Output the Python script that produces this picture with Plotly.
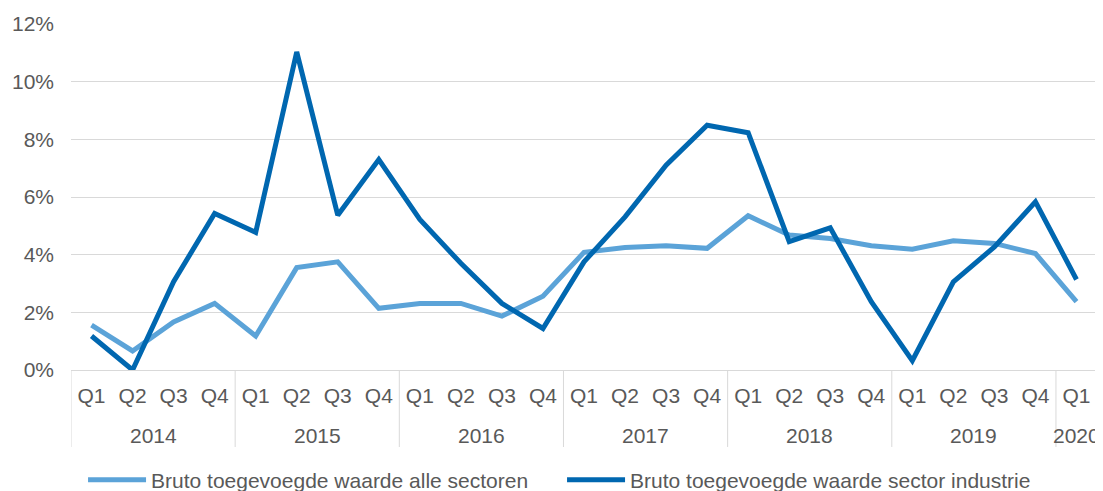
import plotly.graph_objects as go

years = ["2014"] * 4 + ["2015"] * 4 + ["2016"] * 4 + ["2017"] * 4 + ["2018"] * 4 + ["2019"] * 4 + ["2020"]
quarters = ["Q1", "Q2", "Q3", "Q4"] * 6 + ["Q1"]

alle_sectoren = [1.56, 0.66, 1.67, 2.31, 1.18, 3.55, 3.75, 2.14,
                 2.31, 2.31, 1.87, 2.56, 4.08, 4.25, 4.31, 4.22,
                 5.35, 4.68, 4.56, 4.31, 4.19, 4.48, 4.39, 4.04, 2.37]
industrie = [1.18, 0.0, 3.06, 5.43, 4.77, 11.03, 5.37, 7.30,
             5.22, 3.70, 2.31, 1.44, 3.75, 5.31, 7.10, 8.49,
             8.23, 4.45, 4.93, 2.37, 0.32, 3.06, 4.27, 5.83, 3.14]

name_alle = "Bruto toegevoegde waarde alle sectoren"
name_ind = "Bruto toegevoegde waarde sector industrie"

FONT = "Liberation Sans, Arial, sans-serif"
GRAY = "#595959"
GRID = "#D9D9D9"
FS = 21

keys = [f"{y}-{q}" for y, q in zip(years, quarters)]

fig = go.Figure()
fig.add_trace(go.Scatter(x=keys, y=alle_sectoren, name=name_alle, mode="lines",
                         line=dict(color="#5BA3D8", width=5)))
fig.add_trace(go.Scatter(x=keys, y=industrie, name=name_ind, mode="lines",
                         line=dict(color="#0067B0", width=5)))

# year group labels and dividers derived from the category grouping
groups = []
for i, y in enumerate(years):
    if not groups or groups[-1][0] != y:
        groups.append([y, i, i])
    else:
        groups[-1][2] = i

annotations = []
shapes = []
for y, i0, i1 in groups:
    annotations.append(dict(x=(i0 + i1) / 2, xref="x", y=-0.188, yref="paper", text=y,
                            showarrow=False, yanchor="middle", xanchor="center",
                            font=dict(family=FONT, size=FS, color=GRAY)))
    shapes.append(dict(type="line", xref="x", x0=i0 - 0.5, x1=i0 - 0.5, yref="paper", y0=0, y1=-0.2225,
                       line=dict(color=GRID, width=1)))
shapes.append(dict(type="line", xref="x", x0=len(years) - 0.5, x1=len(years) - 0.5, yref="paper",
                   y0=0, y1=-0.2225, line=dict(color=GRID, width=1)))

fig.update_layout(
    width=1095, height=483,
    margin=dict(l=63, r=6, t=16, b=121, autoexpand=False),
    paper_bgcolor="white", plot_bgcolor="white",
    font=dict(family=FONT, size=FS, color=GRAY),
    showlegend=True,
    legend=dict(orientation="h", x=0.4786, xanchor="center", yref="container", y=0.0228, yanchor="middle",
                font=dict(size=FS, color=GRAY), itemwidth=58, entrywidth=406, traceorder="normal"),
    xaxis=dict(type="category", range=[-0.5, len(keys) - 0.5], showgrid=False, showline=True,
               linecolor=GRID, linewidth=1, ticks="", tickvals=keys, ticktext=quarters,
               automargin=False, ticklabelstandoff=7, tickangle=0,
               tickfont=dict(size=FS, color=GRAY)),
    yaxis=dict(range=[0, 12], dtick=2, ticksuffix="%", showgrid=True, gridcolor=GRID, gridwidth=1,
               zeroline=False, showline=False, automargin=False, ticklabelstandoff=16,
               tickfont=dict(size=FS, color=GRAY)),
    annotations=annotations,
    shapes=shapes,
)

fig.write_html("out.html")
